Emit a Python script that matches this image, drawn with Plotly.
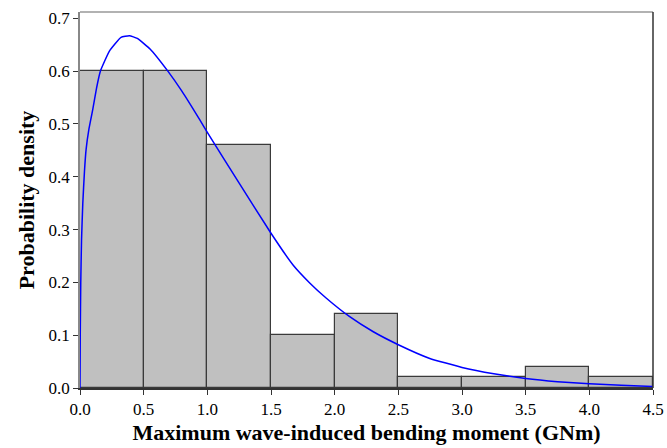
import plotly.graph_objects as go

bin_left = [0.0, 0.5, 1.0, 1.5, 2.0, 2.5, 3.0, 3.5, 4.0]
bin_width = 0.5
density = [0.60, 0.60, 0.46, 0.10, 0.14, 0.02, 0.02, 0.04, 0.02]

curve_x = [0.0, 0.002, 0.006, 0.012, 0.022, 0.035, 0.048, 0.07, 0.10, 0.13, 0.16, 0.231, 0.322, 0.388,
           0.45, 0.55, 0.69, 0.80, 0.94, 1.0, 1.25, 1.5, 1.673, 1.804, 1.935, 2.118, 2.3, 2.5,
           2.747, 3.0, 3.25, 3.5, 3.75, 4.0, 4.25, 4.5]
curve_y = [0.0, 0.10, 0.20, 0.28, 0.35, 0.41, 0.452, 0.49, 0.527, 0.568, 0.600, 0.638, 0.664, 0.667,
           0.662, 0.642, 0.60, 0.562, 0.508, 0.484, 0.388, 0.293, 0.233, 0.199, 0.170, 0.135, 0.107, 0.082,
           0.056, 0.039, 0.027, 0.018, 0.012, 0.008, 0.005, 0.003]

x_ticks = [0.0, 0.5, 1.0, 1.5, 2.0, 2.5, 3.0, 3.5, 4.0, 4.5]
y_ticks = [0.0, 0.1, 0.2, 0.3, 0.4, 0.5, 0.6, 0.7]

centers = [b + bin_width / 2 for b in bin_left]

fig = go.Figure()
fig.add_trace(go.Bar(
    x=centers, y=density, width=[bin_width] * len(density),
    marker=dict(color="#c0c0c0", line=dict(color="#3a3a3a", width=1.2)),
    showlegend=False, hoverinfo="skip",
))
fig.add_trace(go.Scatter(
    x=curve_x, y=curve_y, mode="lines", line=dict(color="#0000ff", width=1.5, shape="spline", smoothing=0.4),
    showlegend=False,
))

font_serif = "Liberation Serif"
fig.update_layout(
    width=667, height=448,
    margin=dict(l=80, r=14, t=12, b=60),
    paper_bgcolor="white", plot_bgcolor="white",
    bargap=0,
    font=dict(family=font_serif, color="#000", size=17),
    xaxis=dict(
        range=[0, 4.5], tickvals=x_ticks, ticktext=[f"{v:.1f}" for v in x_ticks],
        ticks="outside", ticklen=5, tickcolor="#333", showgrid=False, zeroline=False,
        showline=True, linecolor="#333", linewidth=1.5, automargin=False,
        tickfont=dict(family=font_serif, size=17, color="#000"),
        title=dict(text="<b>Maximum wave-induced bending moment (GNm)</b>",
                   font=dict(family=font_serif, size=22, color="#000"), standoff=6),
    ),
    yaxis=dict(
        range=[0, 0.712], tickvals=y_ticks, ticktext=[f"{v:.1f}" for v in y_ticks],
        ticks="outside", ticklen=5, tickcolor="#333", showgrid=False, zeroline=False,
        showline=True, linecolor="#888", linewidth=1.5, automargin=False,
        tickfont=dict(family=font_serif, size=17, color="#000"),
        title=dict(text="<b>Probability density</b>",
                   font=dict(family=font_serif, size=22, color="#000"), standoff=8),
    ),
    shapes=[
        dict(type="line", xref="paper", yref="paper", x0=0, x1=1, y0=1, y1=1,
             line=dict(color="#999", width=1.5)),
        dict(type="line", xref="paper", yref="paper", x0=1, x1=1, y0=0, y1=1,
             line=dict(color="#333", width=1.5)),
    ],
)

fig.write_html("out.html")
